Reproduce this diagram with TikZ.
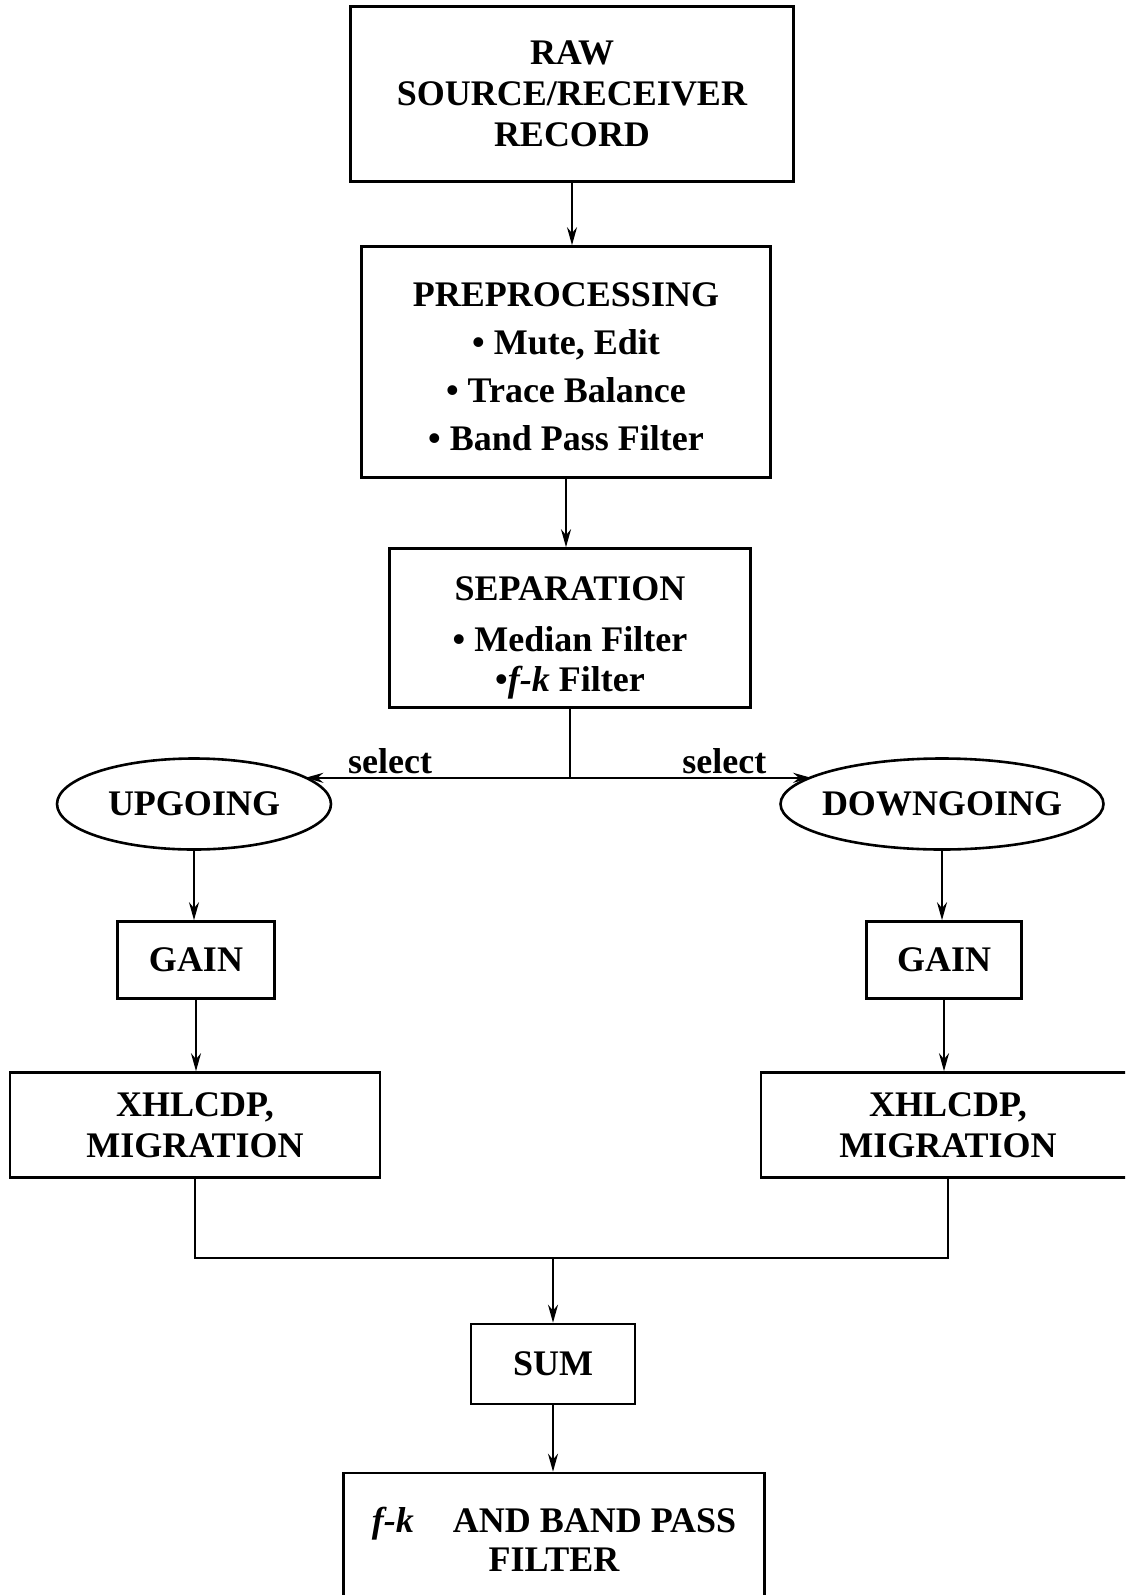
\documentclass[tikz,border=0pt]{standalone}
\usepackage{fontspec}
\setmainfont{Liberation Serif}
\usetikzlibrary{shapes.geometric,arrows.meta}
\begin{document}
\begin{tikzpicture}[x=1pt,y=-1pt,
	box/.style={draw,line width=2.6pt,inner sep=0pt,align=center,font=\bfseries\fontsize{36}{41}\selectfont},
	oval/.style={draw,ellipse,line width=2.6pt,inner sep=0pt,font=\bfseries\fontsize{36}{41}\selectfont},
	line/.style={line width=2pt},
	arr/.style={line width=2pt,-{Stealth[length=18pt,width=10pt]}},
	lab/.style={inner sep=3pt,font=\bfseries\fontsize{36}{41}\selectfont}]
			\useasboundingbox (0,0) rectangle (1125,1595);
			\clip (0,0) rectangle (1125,1595);
			% Vẽ các khối
			\node[box,minimum width=443pt,minimum height=175pt] (raw) at (572,94) {RAW\\SOURCE/RECEIVER\\RECORD};
			\node[box,minimum width=409pt,minimum height=231pt,font=\bfseries\fontsize{36}{48}\selectfont] (pre) at (566,362) {\rule{0pt}{34pt}PREPROCESSING\\\textbullet{} Mute, Edit\\\textbullet{} Trace Balance\\\textbullet{} Band Pass Filter};
			\node[box,minimum width=361pt,minimum height=159pt,font=\bfseries\fontsize{36}{40}\selectfont] (sep) at (570,628) {\rule{0pt}{44pt}SEPARATION\\[11pt]\textbullet{} Median Filter\\\textbullet\textit{f-k} Filter};
			\node[oval,minimum width=274pt,minimum height=91pt] (up) at (194,804) {\makebox[0pt]{UPGOING}};
			\node[oval,minimum width=323pt,minimum height=91pt] (down) at (942,804) {\makebox[0pt]{DOWNGOING}};
			\node[box,minimum width=157pt,minimum height=77pt] (gainl) at (196,960) {GAIN};
			\node[box,minimum width=155pt,minimum height=77pt] (gainr) at (944,960) {GAIN};
			\node[box,minimum width=370pt,minimum height=105pt] (migl) at (195,1125) {XHLCDP,\\MIGRATION};
			\node[box,minimum width=374pt,minimum height=105pt] (migr) at (948,1125) {XHLCDP,\\MIGRATION};
			\node[box,minimum width=164pt,minimum height=80pt] (sum) at (553,1364) {SUM};
			\node[box,minimum width=421pt,minimum height=132pt,font=\bfseries\fontsize{36}{39}\selectfont] (fk) at (554,1539) {\textit{f-k}\hspace{30pt} AND BAND PASS\\FILTER};
			% Vẽ mũi tên
			\draw[arr] (raw.south) -- (raw.south |- pre.north);
			\draw[arr] (pre.south) -- (pre.south |- sep.north);
			\path (sep.south) ++(0,69) coordinate (split);
			\draw[line] (sep.south) -- (split);
			\draw[arr] (split) -- (split -| up.14) node[lab,pos=0.68,above] {select};
			\draw[arr] (split) -- (split -| down.168) node[lab,pos=0.64,above] {select};
			\draw[arr] (up.south) -- (up.south |- gainl.north);
			\draw[arr] (down.south) -- (down.south |- gainr.north);
			\draw[arr] (gainl.south) -- (gainl.south |- migl.north);
			\draw[arr] (gainr.south) -- (gainr.south |- migr.north);
			\path (migl.south) ++(0,79) coordinate (join);
			\draw[line] (migl.south) -- (join) -| (migr.south);
			\draw[arr] (join -| sum.north) -- (sum.north);
			\draw[arr] (sum.south) -- (sum.south |- fk.north);
\end{tikzpicture}
\end{document}
